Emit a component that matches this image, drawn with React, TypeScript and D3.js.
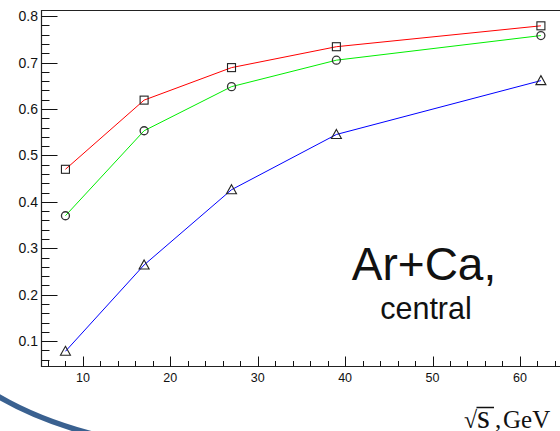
import React, { useEffect, useRef } from 'react';
import * as d3 from 'd3';

// sqrt(s) values, GeV
const energies: number[] = [8, 17, 27, 39, 62.4];

// series values
const redSquares: number[] = [0.47, 0.619, 0.689, 0.734, 0.779];
const greenCircles: number[] = [0.37, 0.553, 0.648, 0.705, 0.758];
const blueTriangles: number[] = [0.078, 0.264, 0.426, 0.545, 0.661];

const xTickLabels: number[] = [10, 20, 30, 40, 50, 60];
const yTickLabels: number[] = [0.1, 0.2, 0.3, 0.4, 0.5, 0.6, 0.7, 0.8];

const App: React.FC = () => {
  const svgRef = useRef<SVGSVGElement>(null);

  useEffect(() => {
    if (!svgRef.current) return;
    const svg = d3.select(svgRef.current);
    svg.selectAll('*').remove();

    const width = 560;
    const height = 431;

    // frame in pixels (right edge is cropped off in the picture)
    const left = 41.5;
    const top = 10.5;
    const bottom = 366.5;

    const x = d3.scaleLinear().domain([5.26, 65.5]).range([left, left + 60.24 * 8.74]);
    const y = d3.scaleLinear().domain([0.0453, 0.812]).range([bottom, top]);

    svg.attr('width', width).attr('height', height).attr('viewBox', `0 0 ${width} ${height}`);

    svg.append('rect').attr('width', width).attr('height', height).attr('fill', 'white');

    // slide decoration arc at the bottom left
    svg.append('path')
      .attr('d', 'M -4 395 Q 36 419 92 434')
      .attr('fill', 'none')
      .attr('stroke', '#3a6190')
      .attr('stroke-width', 5.5);

    // frame
    const x1 = x.range()[1];
    svg.append('path')
      .attr('d', `M ${x1} ${top} H ${left} V ${bottom} H ${x1}`)
      .attr('fill', 'none')
      .attr('stroke', '#222')
      .attr('stroke-width', 1.2);

    // y ticks (inward), major every 0.1, minor every 0.02
    const yMinor = d3.range(0.06, 0.811, 0.02);
    svg.append('g')
      .selectAll('line')
      .data(yMinor)
      .enter()
      .append('line')
      .attr('x1', left)
      .attr('x2', d => {
        const isMajor = Math.abs(d * 10 - Math.round(d * 10)) < 1e-6;
        return left + (isMajor ? 16 : 8);
      })
      .attr('y1', d => Math.round(y(d)) + 0.5)
      .attr('y2', d => Math.round(y(d)) + 0.5)
      .attr('stroke', '#111')
      .attr('stroke-width', 1);

    svg.append('g')
      .selectAll('text')
      .data(yTickLabels)
      .enter()
      .append('text')
      .attr('x', 38)
      .attr('y', d => y(d))
      .attr('dy', '0.36em')
      .attr('text-anchor', 'end')
      .attr('font-family', 'Liberation Sans, Arial, sans-serif')
      .attr('font-size', 14)
      .attr('fill', '#111')
      .text(d => d.toFixed(1));

    // x ticks (inward), major every 10, minor every 2
    const xMinor = d3.range(6, 66, 2);
    svg.append('g')
      .selectAll('line')
      .data(xMinor)
      .enter()
      .append('line')
      .attr('x1', d => Math.round(x(d)) + 0.5)
      .attr('x2', d => Math.round(x(d)) + 0.5)
      .attr('y1', bottom)
      .attr('y2', d => bottom - (d % 10 === 0 ? 10 : 5.5))
      .attr('stroke', '#111')
      .attr('stroke-width', 1);

    svg.append('g')
      .selectAll('text')
      .data(xTickLabels)
      .enter()
      .append('text')
      .attr('x', d => x(d))
      .attr('y', 382)
      .attr('text-anchor', 'middle')
      .attr('font-family', 'Liberation Sans, Arial, sans-serif')
      .attr('font-size', 12.5)
      .attr('fill', '#111')
      .text(d => d);

    // series lines and markers
    const line = d3.line<number>()
      .x((_, i) => x(energies[i]))
      .y(d => y(d));

    const series = [
      { values: redSquares, color: '#ff0000', marker: 'square' },
      { values: greenCircles, color: '#00ee00', marker: 'circle' },
      { values: blueTriangles, color: '#0000ff', marker: 'triangle' },
    ];

    series.forEach(s => {
      svg.append('path')
        .datum(s.values)
        .attr('d', line)
        .attr('fill', 'none')
        .attr('stroke', s.color)
        .attr('stroke-width', 1);
    });

    series.forEach(s => {
      const g = svg.append('g');
      s.values.forEach((v, i) => {
        const cx = x(energies[i]);
        const cy = y(v);
        if (s.marker === 'square') {
          g.append('rect')
            .attr('x', cx - 4).attr('y', cy - 4)
            .attr('width', 8).attr('height', 8)
            .attr('fill', 'none').attr('stroke', '#222').attr('stroke-width', 1.1);
        } else if (s.marker === 'circle') {
          g.append('circle')
            .attr('cx', cx).attr('cy', cy).attr('r', 4)
            .attr('fill', 'none').attr('stroke', '#333').attr('stroke-width', 1.3);
        } else {
          g.append('path')
            .attr('d', `M ${cx} ${cy - 5} L ${cx + 5} ${cy + 4} L ${cx - 5} ${cy + 4} Z`)
            .attr('fill', 'none').attr('stroke', '#222').attr('stroke-width', 1.1);
        }
      });
    });

    // annotation
    svg.append('text')
      .attr('x', 424)
      .attr('y', 280)
      .attr('text-anchor', 'middle')
      .attr('font-family', 'Liberation Sans, Arial, sans-serif')
      .attr('font-size', 46)
      .attr('fill', '#111')
      .text('Ar+Ca,');

    svg.append('text')
      .attr('x', 426)
      .attr('y', 319)
      .attr('text-anchor', 'middle')
      .attr('font-family', 'Liberation Sans, Arial, sans-serif')
      .attr('font-size', 30.5)
      .attr('fill', '#111')
      .text('central');

    // axis title: sqrt(s), GeV (cropped at the right edge like the original)
    const title = svg.append('text')
      .attr('y', 428)
      .attr('font-family', 'Liberation Serif, Times New Roman, serif')
      .attr('fill', '#111');
    title.append('tspan').attr('x', 464).attr('font-size', 24).text('√');
    title.append('tspan').attr('x', 477).attr('font-size', 33).text('s');
    title.append('tspan').attr('x', 495).attr('font-size', 25).text(',');
    title.append('tspan').attr('x', 503).attr('font-size', 25).text('GeV');

    svg.append('line')
      .attr('x1', 476.5).attr('x2', 494)
      .attr('y1', 407.5).attr('y2', 407.5)
      .attr('stroke', '#111')
      .attr('stroke-width', 1.5);
  }, []);

  return (
    <div style={{ position: 'absolute', left: 0, top: 0 }}>
      <svg ref={svgRef} style={{ display: 'block' }} />
    </div>
  );
};

export default App;
